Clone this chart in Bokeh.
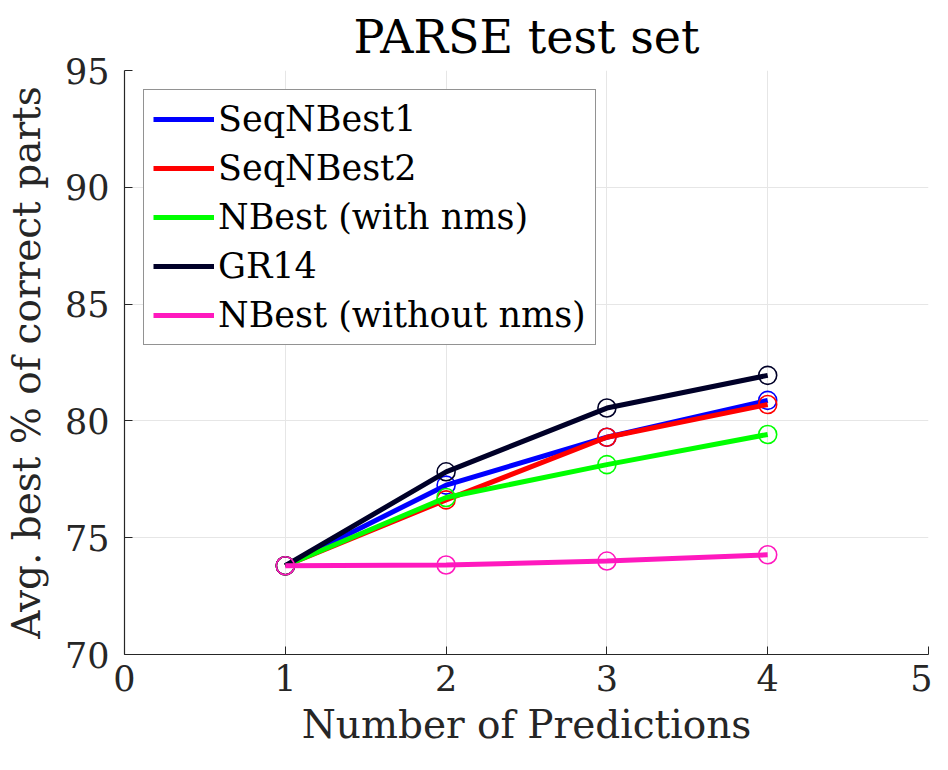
from bokeh.plotting import figure
from bokeh.models import Range1d, FixedTicker, Legend, LegendItem
from bokeh.embed import file_html
from bokeh.resources import INLINE

# ---- data ----
num_predictions = [1, 2, 3, 4]
seq_nbest1 = [73.8, 77.25, 79.3, 80.88]
seq_nbest2 = [73.8, 76.62, 79.3, 80.7]
nbest_nms = [73.8, 76.72, 78.13, 79.42]
gr14 = [73.8, 77.82, 80.55, 81.95]
nbest_no_nms = [73.8, 73.83, 74.0, 74.27]

series_names = ["SeqNBest1", "SeqNBest2", "NBest (with nms)", "GR14", "NBest (without nms)"]
series_values = [seq_nbest1, seq_nbest2, nbest_nms, gr14, nbest_no_nms]
series_colors = ["#0000FF", "#FF0000", "#00FF00", "#000028", "#FF19BE"]

x_ticks = [0, 1, 2, 3, 4, 5]
y_ticks = [70, 75, 80, 85, 90, 95]

FONT = "DejaVu Serif"
AX = "#262626"

p = figure(width=932, height=754, output_backend="svg", toolbar_location=None,
           x_range=Range1d(0, 5), y_range=Range1d(70, 95),
           min_border_left=116, min_border_right=4, min_border_top=68,
           min_border_bottom=100)

p.title.text = "PARSE test set"
p.title.text_font = FONT
p.title.text_font_size = "46px"
p.title.text_font_style = "normal"
p.title.align = "center"
p.title.text_color = "black"
p.title.standoff = 14

p.outline_line_color = None
p.background_fill_color = "white"

for ax in (p.xaxis[0], p.yaxis[0]):
    ax.axis_line_color = AX
    ax.axis_line_width = 1.2
    ax.major_tick_line_color = AX
    ax.major_tick_in = 8
    ax.major_tick_out = 0
    ax.minor_tick_line_color = None
    ax.major_label_text_font = FONT
    ax.major_label_text_font_size = "35px"
    ax.major_label_text_color = AX
    ax.axis_label_text_font = FONT
    ax.axis_label_text_font_size = "39px"
    ax.axis_label_text_font_style = "normal"
    ax.axis_label_text_color = AX

p.xaxis[0].ticker = FixedTicker(ticks=x_ticks)
p.yaxis[0].ticker = FixedTicker(ticks=y_ticks)
p.xaxis[0].axis_label = "Number of Predictions"
p.yaxis[0].axis_label = "Avg. best % of correct parts"
p.xaxis[0].major_label_standoff = 10
p.yaxis[0].major_label_standoff = 15
p.xaxis[0].axis_label_standoff = 8
p.yaxis[0].axis_label_standoff = 13

p.xgrid.grid_line_color = "#e6e6e6"
p.ygrid.grid_line_color = "#e6e6e6"
p.xgrid.ticker = FixedTicker(ticks=x_ticks)
p.ygrid.ticker = FixedTicker(ticks=y_ticks)

items = []
for name, vals, col in zip(series_names, series_values, series_colors):
    r = p.line(num_predictions, vals, line_color=col, line_width=5)
    p.scatter(num_predictions, vals, marker="circle", size=18, fill_color=None,
              line_color=col, line_width=1.6)
    items.append(LegendItem(label=name, renderers=[r]))

legend = Legend(items=items, location="top_left")
legend.margin = 19
legend.padding = 9
legend.spacing = 9
legend.glyph_width = 61
legend.glyph_height = 40
legend.label_height = 40
legend.label_standoff = 4
legend.label_text_font = FONT
legend.label_text_font_size = "35px"
legend.label_text_color = "black"
legend.border_line_color = AX
legend.border_line_width = 1
legend.background_fill_color = "white"
legend.background_fill_alpha = 1.0
p.add_layout(legend, "center")

open("out.html", "w").write(file_html(p, INLINE))
